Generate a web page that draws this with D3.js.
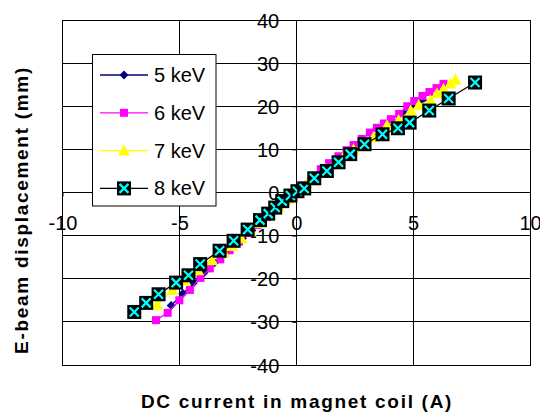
<!DOCTYPE html>
<html><head><meta charset="utf-8">
<script src="https://cdn.jsdelivr.net/npm/d3@7"></script>
<style>body{margin:0;background:#fff}svg{display:block}</style>
</head><body>
<script>
const xTicks = [-10, -5, 0, 5, 10];
const yTicks = [40, 30, 20, 10, 0, -10, -20, -30, -40];
const seriesNames = ["5 keV", "6 keV", "7 keV", "8 keV"];

const x5 = [-5.35,-4.85,-4.4,-3.95,-3.5,-3.1,-2.7,-2.3,-1.9,-1.5,-1.1,-0.7,-0.3,0.1,0.5,0.9,1.3,1.7,2.1,2.5,2.9,3.3,3.7,4.1,4.6,5.0,5.4];
const y5 = [-26.2,-23.4,-21.0,-18.6,-16.3,-14.4,-12.5,-10.6,-8.8,-7.0,-5.2,-3.3,-1.4,0.4,2.3,4.0,5.7,7.3,8.8,10.3,11.7,12.9,14.6,16.2,18.4,20.0,21.4];

const x6 = [-6.0,-5.5,-5.0,-4.55,-4.1,-3.7,-3.25,-2.85,-2.45,-2.05,-1.65,-1.25,-0.85,-0.45,-0.1,0.3,0.7,1.05,1.4,1.8,2.15,2.45,2.8,3.15,3.45,3.75,4.05,4.4,4.75,5.05,5.4,5.7,6.0,6.3];
const y6 = [-29.6,-27.9,-25.0,-22.6,-19.8,-17.6,-15.5,-13.4,-11.4,-9.4,-7.5,-5.7,-3.9,-2.0,-0.4,1.6,3.8,5.4,6.8,8.4,9.8,11.0,12.4,13.9,15.0,16.0,17.0,18.2,20.0,21.2,22.4,23.3,24.2,25.2];

const x7 = [-5.95,-5.3,-4.75,-4.2,-3.6,-3.1,-2.75,-2.35,-1.95,-1.55,-1.15,-0.75,-0.35,0.05,0.45,0.85,1.25,1.65,2.05,2.45,2.85,3.3,3.88,4.38,4.9,5.24,5.74,6.02,6.3,6.59,6.81];
const y7 = [-26.0,-22.6,-20.4,-18.0,-15.7,-13.9,-12.4,-10.6,-8.9,-7.1,-5.3,-3.4,-1.5,0.3,2.1,3.9,5.5,7.0,8.6,10.0,11.4,12.8,15.6,16.8,19.0,20.3,21.4,23.0,24.0,25.3,26.2];

const x8 = [-6.93,-6.42,-5.89,-5.14,-4.61,-4.11,-3.28,-2.68,-2.08,-1.55,-1.2,-0.9,-0.6,-0.25,0.05,0.34,0.77,1.31,1.81,2.31,2.92,3.69,4.35,4.85,5.69,6.52,7.65];
const y8 = [-27.7,-25.6,-23.6,-20.9,-19.2,-16.6,-13.5,-11.2,-8.6,-6.4,-4.9,-3.5,-2.0,-0.7,0.3,0.95,3.3,5.0,7.0,8.9,11.2,13.5,14.9,16.2,19.0,21.8,25.5];

const W = 540, H = 413;
const L = 62.5, R = 530, T = 20, B = 365;
const font = "'Liberation Sans', Arial, sans-serif";

const svg = d3.select("body").append("svg").attr("width", W).attr("height", H);
const xs = d3.scaleLinear().domain([-10, 10]).range([L, R]);
const ys = d3.scaleLinear().domain([-40, 40]).range([B, T]);

// gridlines
const g = svg.append("g").attr("stroke", "#000").attr("stroke-width", 1).attr("shape-rendering", "crispEdges");
g.selectAll(".hg").data(yTicks).join("line")
  .attr("x1", L).attr("x2", R).attr("y1", d => ys(d)).attr("y2", d => ys(d));
g.selectAll(".vg").data(xTicks).join("line")
  .attr("y1", T).attr("y2", B).attr("x1", d => xs(d)).attr("x2", d => xs(d));
g.append("rect").attr("x", L).attr("y", T).attr("width", R - L).attr("height", B - T).attr("fill", "none");

// axes through zero
const xAxis = d3.axisBottom(xs).tickValues(xTicks).tickSize(4).tickFormat(d3.format("d"));
const yAxis = d3.axisLeft(ys).tickValues(yTicks).tickSize(4).tickFormat(d3.format("d"));
const xa = svg.append("g").attr("transform", `translate(0,${ys(0)})`).call(xAxis);
xa.select(".domain").remove();
xa.selectAll("line").attr("stroke", "#000");
xa.selectAll("text").attr("font-family", font).attr("font-size", 20).attr("fill", "#000")
  .attr("y", 0).attr("dy", "37px").text(d => d < 0 ? "-" + Math.abs(d) : d);
const ya = svg.append("g").attr("transform", `translate(${xs(0)},0)`).call(yAxis);
ya.select(".domain").remove();
ya.selectAll("line").attr("stroke", "#000");
ya.selectAll("text").attr("font-family", font).attr("font-size", 20).attr("fill", "#000")
  .attr("x", -17).attr("dy", "0.35em").text(d => d < 0 ? "-" + Math.abs(d) : d);

// series
const series = [
  {name: seriesNames[0], xs: x5, ys: y5, line: "#000080", marker: "diamond"},
  {name: seriesNames[1], xs: x6, ys: y6, line: "#FF00FF", marker: "square"},
  {name: seriesNames[2], xs: x7, ys: y7, line: "#FFFF00", marker: "triangle"},
  {name: seriesNames[3], xs: x8, ys: y8, line: "#000000", marker: "xbox"},
];

function drawMarker(sel, type) {
  if (type === "diamond") {
    sel.append("path").attr("d", "M0,-4.5L4.5,0L0,4.5L-4.5,0Z").attr("fill", "#000080");
  } else if (type === "square") {
    sel.append("rect").attr("x", -4).attr("y", -4).attr("width", 8).attr("height", 8).attr("fill", "#FF00FF");
  } else if (type === "triangle") {
    sel.append("path").attr("d", "M0,-6L6,5L-6,5Z").attr("fill", "#FFFF00");
  } else {
    sel.append("rect").attr("x", -7).attr("y", -7).attr("width", 14).attr("height", 14).attr("fill", "#000");
    sel.append("path").attr("d", "M-4.5,-4.5L4.5,4.5M4.5,-4.5L-4.5,4.5").attr("stroke", "#00FFFF").attr("stroke-width", 2.2).attr("fill", "none");
  }
}

const line = d3.line().x(d => xs(d[0])).y(d => ys(d[1]));
series.forEach(s => {
  const pts = s.xs.map((v, i) => [v, s.ys[i]]);
  svg.append("path").datum(pts).attr("d", line).attr("fill", "none").attr("stroke", s.line).attr("stroke-width", 1.3);
  svg.append("g").selectAll("g").data(pts).join("g")
    .attr("transform", d => `translate(${xs(d[0])},${ys(d[1])})`)
    .each(function () { drawMarker(d3.select(this), s.marker); });
});

// legend
const lg = svg.append("g");
lg.append("rect").attr("x", 92.5).attr("y", 54.5).attr("width", 123.5).attr("height", 151.5)
  .attr("fill", "#fff").attr("stroke", "#000").attr("stroke-width", 1);
series.forEach((s, i) => {
  const yy = 75 + i * 37.8;
  lg.append("line").attr("x1", 100).attr("x2", 148).attr("y1", yy).attr("y2", yy)
    .attr("stroke", s.line).attr("stroke-width", 1.3);
  const m = lg.append("g").attr("transform", `translate(124,${yy})`);
  drawMarker(m, s.marker);
  lg.append("text").attr("x", 154).attr("y", yy).attr("dy", "0.35em")
    .attr("font-family", font).attr("font-size", 20).text(s.name);
});

// axis titles
svg.append("text").attr("x", 297).attr("y", 408).attr("text-anchor", "middle")
  .attr("font-family", font).attr("font-size", 19).attr("font-weight", "bold")
  .attr("letter-spacing", "1.7px").text("DC current in magnet coil (A)");
svg.append("text").attr("transform", "translate(28,210) rotate(-90)").attr("text-anchor", "middle")
  .attr("font-family", font).attr("font-size", 19).attr("font-weight", "bold")
  .attr("letter-spacing", "1.7px").text("E-beam displacement (mm)");
</script>
</body></html>
